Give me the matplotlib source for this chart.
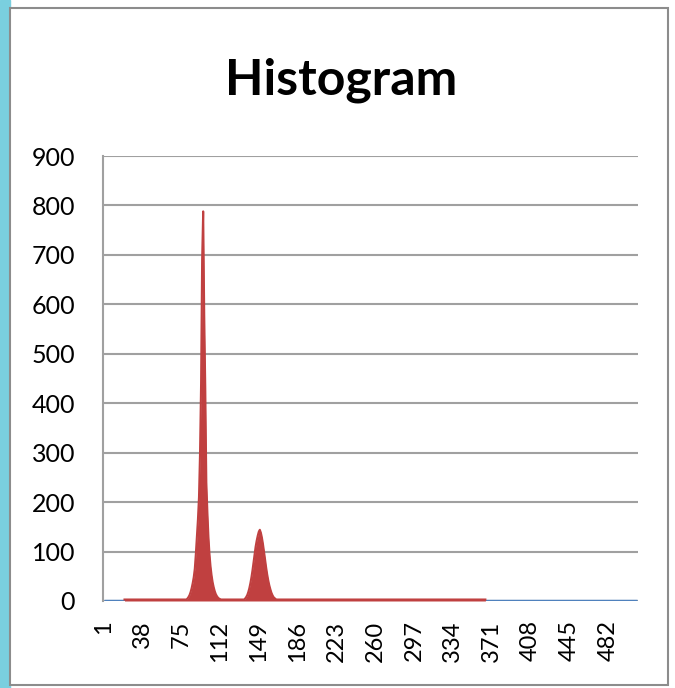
import matplotlib
matplotlib.use("Agg")
import matplotlib.pyplot as plt
import numpy as np

plt.rcParams['font.family'] = ['Lato', 'DejaVu Sans']

# data
n_bins = 510
red_start, red_end = 21, 365     # range covered by the red series
red_base = 3                     # small flat level between the peaks

peak1_start = 80
peak1 = [3, 5, 8, 12, 18, 26, 36, 48, 65, 95, 130, 165, 210, 300, 440, 690,
         788, 578, 430, 240, 180, 130, 95, 70, 52, 38, 28, 20, 14, 10, 7, 5, 4]

peak2_start = 135
peak2 = [3, 5, 8, 12, 18, 26, 36, 48, 62, 78, 95, 110, 122, 132, 140, 144,
         138, 128, 115, 100, 84, 68, 54, 42, 32, 24, 17, 12, 8, 6, 4]

tick_labels = ['1', '38', '75', '112', '149', '186', '223', '260', '297',
               '334', '371', '408', '445', '482']

# build the series
x = np.arange(1, n_bins + 1)
red = np.full(n_bins, np.nan)
red[red_start - 1:red_end] = red_base
red[peak1_start - 1:peak1_start - 1 + len(peak1)] = peak1
red[peak2_start - 1:peak2_start - 1 + len(peak2)] = peak2
blue = np.zeros(n_bins)

fig = plt.figure(figsize=(6.75, 6.88), dpi=100)

# outer decorations: cyan strip and chart frame
fig.patches.append(plt.Rectangle((0, 0), 10 / 675, 1, transform=fig.transFigure,
                                 color='#7ACFDF', zorder=-2))
fig.patches.append(plt.Rectangle((10 / 675, 3 / 688), 658 / 675, 677 / 688,
                                 transform=fig.transFigure, facecolor='white',
                                 edgecolor='#8C8C8C', lw=1.5, zorder=-1))

ax = fig.add_axes([103 / 675, 1 - 601 / 688, 535 / 675, 445 / 688])
ax.set_zorder(1)
ax.set_facecolor('none')

ax.plot(x, blue, color='#4F81BD', lw=2.5, zorder=2, solid_capstyle='butt')
ax.fill_between(x, 0, red, color='#C04040', lw=0, zorder=3)
ax.plot(x, red, color='#C04040', lw=1.5, zorder=3)

ax.set_xlim(0.5, n_bins + 0.5)
ax.set_ylim(0, 900)
ax.set_yticks(range(0, 901, 100))
ax.set_xticks(range(1, n_bins + 1, 37)[:len(tick_labels)])
ax.set_xticklabels(tick_labels, rotation=90)
ax.tick_params(axis='both', length=0, colors='black')
ax.tick_params(axis='y', labelsize=18, pad=20)
ax.tick_params(axis='x', labelsize=17, pad=14)

ax.yaxis.grid(True, color='#A0A0A0', lw=1.5)
ax.set_axisbelow(True)
for s in ['top', 'right', 'bottom']:
    ax.spines[s].set_visible(False)
ax.spines['left'].set_color('#A0A0A0')
ax.spines['left'].set_linewidth(1.5)

fig.text(341 / 675, 1 - 80 / 688, 'Histogram', ha='center', va='center',
         fontsize=36, fontweight='bold')

fig.savefig('out.png', dpi=100)
